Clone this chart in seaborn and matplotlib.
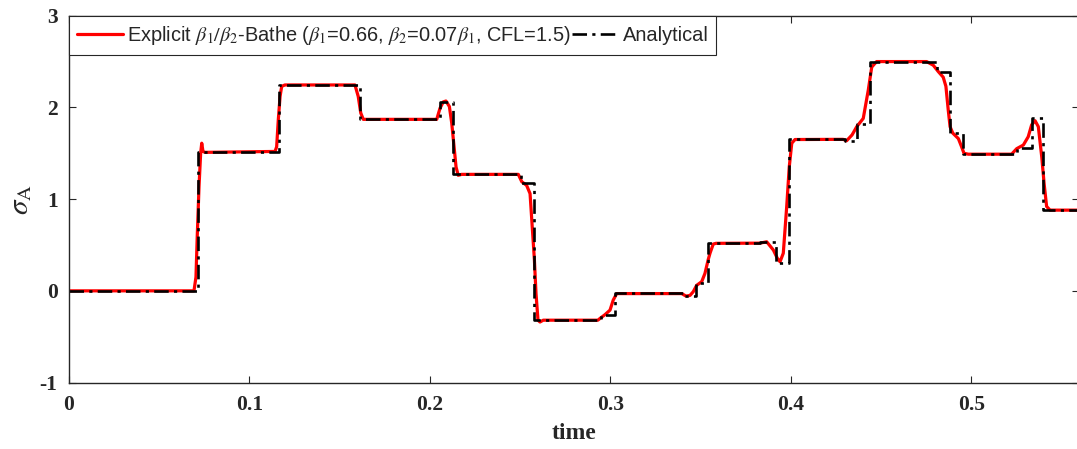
import numpy as np
import pandas as pd
import matplotlib
matplotlib.use("Agg")
import matplotlib.pyplot as plt
import seaborn as sns

# ---- Data ----
# Analytical solution: step function (time of each step start, level after it)
ana_time = [0.0, 0.0718, 0.1165, 0.1614, 0.2057, 0.2131, 0.2504, 0.2580, 0.2947,
            0.3027, 0.3403, 0.3475, 0.3543, 0.3830, 0.3918, 0.3992, 0.4300,
            0.4366, 0.4439, 0.4809, 0.4883, 0.4956, 0.5252, 0.5335, 0.5399, 0.5600]
ana_sigma = [0.0, 1.517, 2.244, 1.870, 2.062, 1.270, 1.172, -0.318, -0.264,
             -0.028, -0.060, 0.088, 0.518, 0.535, 0.300, 1.652, 1.635,
             1.819, 2.499, 2.383, 1.717, 1.492, 1.560, 1.880, 0.881, 0.881]

# Explicit beta1/beta2-Bathe numerical solution
num_time = [0.0, 0.0694, 0.0705, 0.0712, 0.0722, 0.0731, 0.0737, 0.0744, 0.0755,
            0.1143, 0.1152, 0.1161, 0.1171, 0.1180, 0.1198,
            0.1586, 0.1604, 0.1618, 0.1632,
            0.2039, 0.2057, 0.2075, 0.2090, 0.2109, 0.2122, 0.2135, 0.2146, 0.2158, 0.2177,
            0.2491, 0.2510, 0.2537, 0.2556, 0.2568, 0.2580, 0.2589, 0.2600, 0.2611, 0.2629,
            0.2932, 0.2944, 0.2971, 0.2999, 0.3017, 0.3036,
            0.3396, 0.3420, 0.3442, 0.3460, 0.3479, 0.3507, 0.3525, 0.3543, 0.3553, 0.3571, 0.3586,
            0.3830, 0.3867, 0.3904, 0.3926, 0.3941, 0.3959, 0.3978, 0.3992, 0.4006, 0.4024,
            0.4290, 0.4310, 0.4340, 0.4366, 0.4402, 0.4430, 0.4449, 0.4476,
            0.4753, 0.4790, 0.4818, 0.4845, 0.4860, 0.4873, 0.4883, 0.4898, 0.4929, 0.4947, 0.4960, 0.4984,
            0.5224, 0.5252, 0.5289, 0.5316, 0.5335, 0.5354, 0.5372, 0.5391, 0.5404, 0.5418, 0.5437,
            0.5600]
num_sigma = [0.0, 0.0, 0.15, 0.59, 1.14, 1.50, 1.61, 1.52, 1.51,
             1.52, 1.57, 1.86, 2.12, 2.23, 2.245,
             2.245, 2.12, 1.94, 1.87,
             1.87, 1.99, 2.06, 2.07, 2.01, 1.83, 1.57, 1.35, 1.26, 1.27,
             1.27, 1.19, 1.15, 1.06, 0.70, 0.34, -0.03, -0.32, -0.34, -0.32,
             -0.32, -0.30, -0.26, -0.21, -0.10, -0.03,
             -0.03, -0.057, -0.05, -0.01, 0.06, 0.10, 0.19, 0.34, 0.41, 0.51, 0.518,
             0.52, 0.535, 0.445, 0.355, 0.317, 0.41, 0.92, 1.35, 1.61, 1.65,
             1.652, 1.637, 1.70, 1.79, 1.88, 2.19, 2.44, 2.50,
             2.50, 2.46, 2.39, 2.33, 2.23, 1.97, 1.79, 1.72, 1.66, 1.57, 1.50, 1.49,
             1.49, 1.55, 1.59, 1.68, 1.81, 1.855, 1.79, 1.46, 1.17, 0.92, 0.88,
             0.88]

x_ticks = [0, 0.1, 0.2, 0.3, 0.4, 0.5]
y_ticks = [-1, 0, 1, 2, 3]

label_num = r"Explicit $\beta_1/\beta_2$-Bathe ($\beta_1$=0.66, $\beta_2$=0.07$\beta_1$, CFL=1.5)"
label_ana = "Analytical"

# ---- Plot ----
sns.set_style("ticks")
plt.rcParams["font.family"] = ["Liberation Sans", "DejaVu Sans"]
plt.rcParams["mathtext.fontset"] = "stix"

fig = plt.figure(figsize=(10.77, 4.49), dpi=100)
ax = fig.add_axes([0.0638, 0.148, 0.9385, 0.817])

df_num = pd.DataFrame({"time": num_time, "sigma": num_sigma})
df_ana = pd.DataFrame({"time": ana_time, "sigma": ana_sigma})

sns.lineplot(data=df_num, x="time", y="sigma", ax=ax, color="#ff0000",
             linewidth=2.3, estimator=None, sort=False, label=label_num)
sns.lineplot(data=df_ana, x="time", y="sigma", ax=ax, color="black",
             linewidth=1.9, estimator=None, sort=False, drawstyle="steps-post",
             linestyle=(0, (5.5, 2, 1.2, 2)), label=label_ana)

ax.set_xlim(0, 0.56)
ax.set_ylim(-1, 3)
ax.set_xticks(x_ticks)
ax.set_yticks(y_ticks)
ax.set_xticklabels([f"{v:g}" for v in x_ticks], fontfamily="Liberation Serif",
                   fontweight="bold", fontsize=15.5)
ax.set_yticklabels([f"{v:g}" for v in y_ticks], fontfamily="Liberation Serif",
                   fontweight="bold", fontsize=15.5)
ax.tick_params(axis="x", direction="in", top=True, length=5, width=0.8, pad=9)
ax.tick_params(axis="y", direction="in", right=True, length=5, width=0.8, pad=8)
for s in ax.spines.values():
    s.set_visible(True)
    s.set_linewidth(1.0)
    s.set_color("#262626")

ax.set_xlabel("time", fontfamily="Liberation Serif", fontweight="bold", fontsize=17, labelpad=6)
ax.set_ylabel(r"$\sigma_{\mathrm{A}}$", fontsize=21, labelpad=4)

leg = ax.legend(loc="upper left", ncol=2, frameon=True, fancybox=False,
                borderaxespad=0, fontsize=14.4, handlelength=2.3, handletextpad=0.2,
                columnspacing=0.1, borderpad=0.4)
leg.get_frame().set_edgecolor("#262626")
leg.get_frame().set_linewidth(0.8)
leg.get_frame().set_alpha(1)

fig.savefig("out.png", dpi=100)
